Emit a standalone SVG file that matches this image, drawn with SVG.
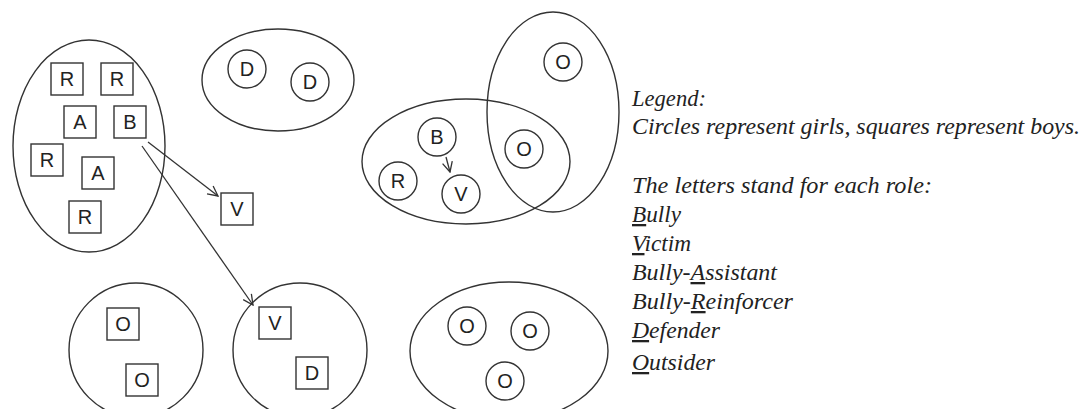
<svg xmlns="http://www.w3.org/2000/svg" width="1084" height="409" viewBox="0 0 1084 409">
<style>
.g{fill:none;stroke:#333;stroke-width:1.4}
.n{fill:#fff;stroke:#333;stroke-width:1.4}
.l{font-family:"Liberation Sans",Arial,sans-serif;font-size:20px;fill:#222;text-anchor:middle;dominant-baseline:central}
.t{font-family:"Liberation Serif","Times New Roman",serif;font-style:italic;font-size:23px;fill:#222}
.u{text-decoration:underline}
.c{fill:none;stroke:#333;stroke-width:1.3}
</style>
<defs>
<marker id="ah" viewBox="0 0 12 12" refX="11" refY="6" markerWidth="12" markerHeight="12" markerUnits="userSpaceOnUse" orient="auto">
<path d="M1,1 L11,6 L1,11" fill="none" stroke="#333" stroke-width="1.3"/>
</marker>
</defs>
<rect width="1084" height="409" fill="#fff"/>
<g id="groups">
<ellipse id="group-left" class="g" cx="89" cy="146" rx="76" ry="106"/>
<ellipse id="group-D" class="g" cx="278" cy="80" rx="76" ry="51"/>
<ellipse id="group-BRV" class="g" cx="466" cy="161.5" rx="104" ry="62.5"/>
<ellipse id="group-OO" class="g" cx="553" cy="112" rx="66" ry="100"/>
<ellipse id="group-bottom-left" class="g" cx="136" cy="350" rx="67" ry="67"/>
<ellipse id="group-bottom-mid" class="g" cx="300" cy="350" rx="67" ry="67"/>
<ellipse id="group-bottom-right" class="g" cx="509" cy="351" rx="99" ry="69"/>
</g>
<g id="connectors">
<line class="c" x1="148" y1="142" x2="218" y2="196" marker-end="url(#ah)"/>
<line class="c" x1="142" y1="146" x2="253" y2="305" marker-end="url(#ah)"/>
<line class="c" x1="446" y1="157" x2="450" y2="172" marker-end="url(#ah)"/>
</g>
<g id="n-R1"><rect class="n" x="51" y="63" width="32" height="32"/><text class="l" x="67" y="79">R</text></g>
<g id="n-R2"><rect class="n" x="101" y="63" width="32" height="32"/><text class="l" x="117" y="79">R</text></g>
<g id="n-A1"><rect class="n" x="64" y="106" width="32" height="32"/><text class="l" x="80" y="122">A</text></g>
<g id="n-B1"><rect class="n" x="114" y="106" width="32" height="32"/><text class="l" x="130" y="122">B</text></g>
<g id="n-R3"><rect class="n" x="31" y="144" width="32" height="32"/><text class="l" x="47" y="160">R</text></g>
<g id="n-A2"><rect class="n" x="82" y="157" width="32" height="32"/><text class="l" x="98" y="173">A</text></g>
<g id="n-R4"><rect class="n" x="69" y="201" width="32" height="32"/><text class="l" x="85" y="217">R</text></g>
<g id="n-V1"><rect class="n" x="221" y="193" width="32" height="32"/><text class="l" x="237" y="209">V</text></g>
<g id="n-D1"><circle class="n" cx="247" cy="69" r="19"/><text class="l" x="247" y="69">D</text></g>
<g id="n-D2"><circle class="n" cx="310" cy="82" r="19"/><text class="l" x="310" y="82">D</text></g>
<g id="n-O1"><circle class="n" cx="563" cy="62" r="19"/><text class="l" x="563" y="62">O</text></g>
<g id="n-O2"><circle class="n" cx="524" cy="149" r="19"/><text class="l" x="524" y="149">O</text></g>
<g id="n-B2"><circle class="n" cx="437" cy="137" r="19"/><text class="l" x="437" y="137">B</text></g>
<g id="n-R5"><circle class="n" cx="398" cy="181" r="19"/><text class="l" x="398" y="181">R</text></g>
<g id="n-V2"><circle class="n" cx="461" cy="194" r="19"/><text class="l" x="461" y="194">V</text></g>
<g id="n-O3"><rect class="n" x="107" y="308" width="32" height="32"/><text class="l" x="123" y="324">O</text></g>
<g id="n-O4"><rect class="n" x="126" y="364" width="32" height="32"/><text class="l" x="142" y="380">O</text></g>
<g id="n-V3"><rect class="n" x="259" y="307" width="32" height="32"/><text class="l" x="275" y="323">V</text></g>
<g id="n-D3"><rect class="n" x="296" y="357" width="32" height="32"/><text class="l" x="312" y="373">D</text></g>
<g id="n-O5"><circle class="n" cx="467" cy="326" r="19"/><text class="l" x="467" y="326">O</text></g>
<g id="n-O6"><circle class="n" cx="530" cy="331" r="19"/><text class="l" x="530" y="331">O</text></g>
<g id="n-O7"><circle class="n" cx="505" cy="381" r="19"/><text class="l" x="505" y="381">O</text></g>
<g id="legend">
<text class="t" x="632" y="106" textLength="74" lengthAdjust="spacingAndGlyphs">Legend:</text>
<text class="t" x="632" y="134" textLength="448" lengthAdjust="spacingAndGlyphs">Circles represent girls, squares represent boys.</text>
<text class="t" x="632" y="193" textLength="300" lengthAdjust="spacingAndGlyphs">The letters stand for each role:</text>
<text class="t" x="632" y="222" textLength="49" lengthAdjust="spacingAndGlyphs"><tspan class="u">B</tspan>ully</text>
<text class="t" x="632" y="251" textLength="59" lengthAdjust="spacingAndGlyphs"><tspan class="u">V</tspan>ictim</text>
<text class="t" x="632" y="280" textLength="145" lengthAdjust="spacingAndGlyphs">Bully-<tspan class="u">A</tspan>ssistant</text>
<text class="t" x="632" y="309" textLength="161" lengthAdjust="spacingAndGlyphs">Bully-<tspan class="u">R</tspan>einforcer</text>
<text class="t" x="632" y="338" textLength="88" lengthAdjust="spacingAndGlyphs"><tspan class="u">D</tspan>efender</text>
<text class="t" x="632" y="370" textLength="83" lengthAdjust="spacingAndGlyphs"><tspan class="u">O</tspan>utsider</text>
</g>
</svg>
